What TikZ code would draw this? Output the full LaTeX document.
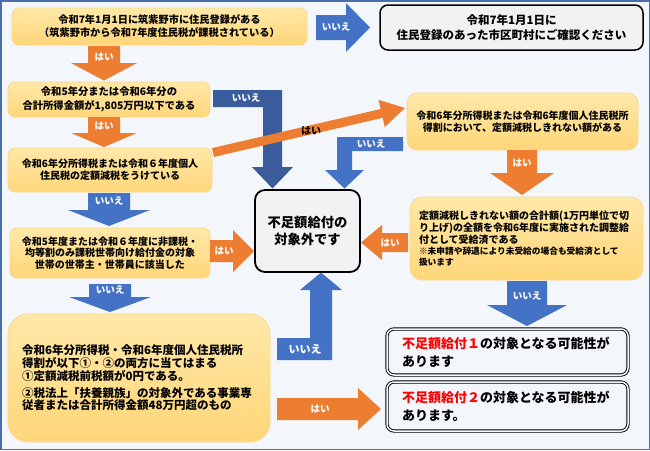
\documentclass[tikz,border=0pt]{standalone}
\usepackage{fontspec}
\setmainfont{Noto Sans CJK JP}
\definecolor{bgc}{HTML}{F3F6FB}
\definecolor{framec}{HTML}{4A6EA9}
\definecolor{orc}{HTML}{ED7D31}
\definecolor{blc}{HTML}{4472C4}
\definecolor{dblc}{HTML}{3A5C9C}
\definecolor{boxtop}{HTML}{FFE8A8}
\definecolor{boxbot}{HTML}{FFD679}
\definecolor{boxline}{HTML}{FAD88A}
\definecolor{grayfill}{HTML}{F2F2F2}
\definecolor{redtxt}{HTML}{FF0000}
\tikzset{
  obox/.style={rounded corners=7pt, top color=boxtop, bottom color=boxbot, draw=boxline, line width=0.8pt, inner sep=0pt, align=center, font=\bfseries\fontsize{10.3}{13}\selectfont},
  gbox/.style={rounded corners=9pt, fill=grayfill, draw=black, line width=1.5pt, inner sep=0pt, align=center},
  dbox/.style={rounded corners=7pt, draw=black, double=bgc, double distance=1.5pt, line width=0.9pt, inner sep=0pt},
  arrlabel/.style={text=white, font=\bfseries\fontsize{9.5}{10}\selectfont, inner sep=0pt},
}
\begin{document}
\begin{tikzpicture}[x=1pt,y=-1pt]
\useasboundingbox (0,0) rectangle (650,450);
\fill[bgc] (0,0) rectangle (650,450);
\draw[framec, line width=1.5pt] (0.75,0.75) rectangle (649.25,449.25);

% boxes
\node[obox, minimum width=295pt, minimum height=37pt, font=\bfseries\fontsize{10.2}{13}\selectfont] (A) at (159.5,26.5) {令和7年1月1日に筑紫野市に住民登録がある\\（筑紫野市から令和7年度住民税が課税されている）};
\node[gbox, rounded corners=8pt, minimum width=263pt, minimum height=45pt, font=\bfseries\fontsize{11.5}{15}\selectfont] (B) at (511.5,27.5) {令和7年1月1日に\\住民登録のあった市区町村にご確認ください};
\node[obox, minimum width=202pt, minimum height=35pt, font=\bfseries\fontsize{10.3}{14}\selectfont] (C) at (109,99.5) {令和5年分または令和6年分の\\合計所得金額が1,805万円以下である};
\node[obox, minimum width=204pt, minimum height=44pt, font=\bfseries\fontsize{10}{12}\selectfont] (D) at (110,170) {令和6年分所得税または令和６年度個人\\住民税の定額減税をうけている};
\node[obox, minimum width=200pt, minimum height=50pt, font=\bfseries\fontsize{10}{11.5}\selectfont] (E) at (110,253) {令和5年度または令和６年度に非課税・\\均等割のみ課税世帯向け給付金の対象\\世帯の世帯主・世帯員に該当した};
\node[obox, rounded corners=20pt, minimum width=262pt, minimum height=128pt, text width=234pt, inner xsep=14pt, align=left, font=\bfseries\fontsize{11.5}{12.8}\selectfont] (F) at (139,378) {令和6年分所得税・令和6年度個人住民税所\\得割が以下①・②の両方に当てはまる\\①定額減税前税額が0円である。\\[4pt]②税法上「扶養親族」の対象外である事業専\\従者または合計所得金額48万円超のもの};
\node[gbox, rounded corners=10pt, line width=1.8pt, minimum width=105pt, minimum height=82pt, font=\bfseries\fontsize{13.3}{16.5}\selectfont] (G) at (307.5,231) {不足額給付の\\対象外です};
\node[obox, rounded corners=10pt, minimum width=231pt, minimum height=57pt, font=\bfseries\fontsize{10}{11.5}\selectfont] (H) at (522.5,121.5) {令和6年分所得税または令和6年度個人住民税所\\得割において、定額減税しきれない額がある};
\node[obox, rounded corners=12pt, minimum width=233pt, minimum height=83pt, text width=215pt, inner xsep=9pt, align=left, font=\bfseries\fontsize{10}{12}\selectfont] (I) at (526.5,238.5) {定額減税しきれない額の合計額(1万円単位で切\\り上げ)の全額を令和6年度に実施された調整給\\付として受給済である\par{\fontsize{8.7}{11}\selectfont ※未申請や辞退により未受給の場合も受給済として\\扱います\par}};
\node[dbox, minimum width=241pt, minimum height=46pt, text width=211pt, inner xsep=15pt, align=left, font=\bfseries\fontsize{13}{18}\selectfont] (J) at (507.5,352) {\textcolor{redtxt}{不足額給付１}の対象となる可能性が\\あります};
\node[dbox, minimum width=241pt, minimum height=49pt, text width=211pt, inner xsep=15pt, align=left, font=\bfseries\fontsize{13}{18}\selectfont] (K) at (507.5,406.5) {\textcolor{redtxt}{不足額給付２}の対象となる可能性が\\あります。};

% block arrows
\fill[blc] (316,15) -- (346,15) -- (346,3) -- (370,27.5) -- (346,52) -- (346,40) -- (316,40) -- cycle;
\node[arrlabel] (l2) at (336,27) {いいえ};

\fill[orc] (88,46) -- (120,46) -- (120,63) -- (137,63) -- (104,80.5) -- (71,63) -- (88,63) -- cycle;
\node[arrlabel] (l4) at (104,57) {はい};

\fill[orc] (88,117) -- (120,117) -- (120,133) -- (137,133) -- (104,147) -- (71,133) -- (88,133) -- cycle;
\node[arrlabel] (l6) at (104,126) {はい};

\fill[blc] (88,193) -- (130,193) -- (130,210) -- (150,210) -- (109,226) -- (68,210) -- (88,210) -- cycle;
\node[arrlabel] (l8) at (109,201) {いいえ};

\fill[blc] (89,284) -- (131,284) -- (131,297) -- (151,297) -- (110,312) -- (69,297) -- (89,297) -- cycle;
\node[arrlabel] (l11) at (110,290) {いいえ};

\fill[orc] (210,240) -- (233,240) -- (233,230) -- (254,251) -- (233,272) -- (233,262) -- (210,262) -- cycle;
\node[arrlabel] (l10) at (224,251) {はい};

\fill[dblc] (213,90) -- (282,90) -- (282,167) -- (293,167) -- (272.5,188.5) -- (252,167) -- (263,167) -- (263,107) -- (213,107) -- cycle;
\node[arrlabel] (l14) at (246,98) {いいえ};

\fill[orc] (211.98,148.12) -- (380.60,109.04) -- (378.46,99.78) -- (405,108) -- (384.78,127.06) -- (382.64,117.80) -- (214.02,156.88) -- cycle;
\node[inner sep=0pt, font=\bfseries\fontsize{10}{11}\selectfont] (l15) at (311,131) {はい};

\fill[blc] (403,137) -- (337,137) -- (337,170) -- (325,170) -- (344.5,188.5) -- (364,170) -- (352,170) -- (352,151) -- (403,151) -- cycle;
\node[arrlabel] (l17) at (371,144) {いいえ};

\fill[orc] (507,150) -- (537,150) -- (537,173) -- (554,173) -- (522,195) -- (490,173) -- (507,173) -- cycle;
\node[arrlabel] (l18) at (522,163) {はい};

\fill[orc] (408,233) -- (382,233) -- (382,225) -- (361,242.5) -- (382,260) -- (382,252) -- (408,252) -- cycle;
\node[arrlabel] (l20) at (390,243) {はい};

\fill[blc] (507,281) -- (547,281) -- (547,305) -- (567,305) -- (527,326) -- (487,305) -- (507,305) -- cycle;
\node[arrlabel] (l21) at (527,296) {いいえ};

\fill[blc] (321,272.5) -- (342,290) -- (332,290) -- (332,360) -- (277,360) -- (277,338) -- (310,338) -- (310,290) -- (300,290) -- cycle;
\node[arrlabel, font=\bfseries\fontsize{11}{12}\selectfont] (l24) at (305,349) {いいえ};

\fill[orc] (277,398) -- (358,398) -- (358,388) -- (381,409) -- (358,430) -- (358,420) -- (277,420) -- cycle;
\node[arrlabel] (l25) at (320,409) {はい};
\end{tikzpicture}
\end{document}
